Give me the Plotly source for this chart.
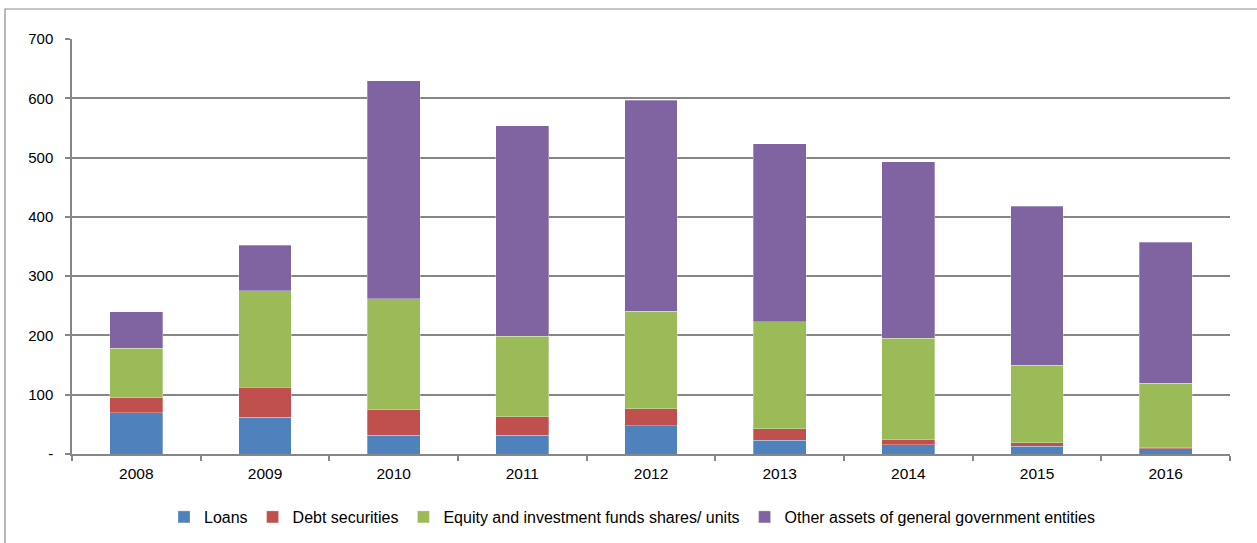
import plotly.graph_objects as go

years = ["2008", "2009", "2010", "2011", "2012", "2013", "2014", "2015", "2016"]
loans = [70, 62, 32, 32, 48, 23, 16, 13, 9]
debt = [25, 51, 43, 31, 28, 20, 8, 6, 2]
equity = [83, 162, 187, 136, 165, 180, 171, 131, 108]
other = [62, 77, 368, 355, 356, 300, 298, 268, 238]

y_tickvals = [0, 100, 200, 300, 400, 500, 600, 700]
y_ticktext = ["-", "100", "200", "300", "400", "500", "600", "700"]

series = [
    ("Loans", loans, "#4F81BD"),
    ("Debt securities", debt, "#C0504D"),
    ("Equity and investment funds shares/ units", equity, "#9BBB59"),
    ("Other assets of general government entities", other, "#8064A2"),
]

fig = go.Figure()
for name, vals, color in series:
    fig.add_trace(go.Bar(
        x=years, y=vals, name=name,
        marker=dict(color=color, line=dict(color="rgba(255,255,255,0.6)", width=0.5)),
        width=0.41,
    ))

W, H = 1257, 543
l, r, t, b = 72, 27, 39, 89
pw = W - l - r
ph = H - t - b

def px_to_paper_x(px):
    return (px - l) / pw

def px_to_paper_y(py):
    return (H - b - py) / ph

fig.add_shape(type="rect", xref="paper", yref="paper",
              x0=px_to_paper_x(5), x1=px_to_paper_x(1262),
              y0=px_to_paper_y(560), y1=px_to_paper_y(9),
              line=dict(color="#8C8C8C", width=1.2), fillcolor="rgba(0,0,0,0)",
              layer="below")

fig.update_layout(
    barmode="stack",
    width=W, height=H,
    margin=dict(l=l, r=r, t=t, b=b, autoexpand=False),
    paper_bgcolor="white",
    plot_bgcolor="white",
    font=dict(family="Liberation Sans, Arial, sans-serif", size=15, color="#000000"),
    legend=dict(orientation="h", x=px_to_paper_x(632), xanchor="center", y=px_to_paper_y(517), yanchor="middle",
                font=dict(size=16), itemwidth=30, traceorder="normal",
                tracegroupgap=0),
    xaxis=dict(
        type="category", automargin=False,
        showline=True, linecolor="#868686", linewidth=1.5,
        ticks="outside", tickson="boundaries", ticklen=5, tickcolor="#868686", tickwidth=1.5,
        showgrid=False, tickfont=dict(size=15.5), ticklabelstandoff=5,
    ),
    yaxis=dict(
        range=[0, 700], automargin=False,
        tickvals=y_tickvals, ticktext=y_ticktext,
        showgrid=True, gridcolor="#868686", gridwidth=1.5,
        showline=True, linecolor="#868686", linewidth=1.5,
        ticks="outside", ticklen=5, tickcolor="#868686", tickwidth=1.5,
        zeroline=False, tickfont=dict(size=15), ticklabelstandoff=9,
    ),
)

fig.write_html("out.html", config={"displayModeBar": False},
               post_script="document.body.style.margin='0px';document.body.style.overflow='hidden';")
